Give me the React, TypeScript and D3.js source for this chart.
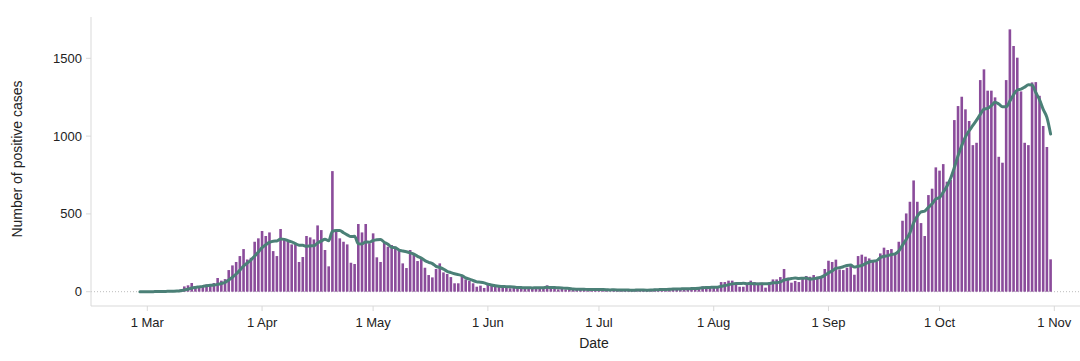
import React from "react";
import * as d3 from "d3";

// First reported day of the series (bars are daily counts from this date)
const startDate = "2020-02-28";

// Daily number of positive cases, 28 Feb 2020 .. 31 Oct 2020
const dailyCases: number[] = [
  0, 0, 1, 0, 2, 2, 5, 4, 3, 7,
  8, 15, 34, 41, 56, 32, 30, 32, 47, 47,
  56, 88, 71, 81, 139, 169, 191, 229, 274, 207,
  218, 321, 343, 390, 358, 381, 261, 229, 403, 332,
  328, 304, 306, 191, 223, 358, 349, 336, 426, 396,
  268, 163, 775, 386, 343, 321, 304, 186, 178, 435,
  381, 435, 311, 375, 221, 191, 315, 289, 300, 289,
  268, 182, 152, 268, 236, 197, 210, 154, 107, 92,
  146, 182, 124, 114, 94, 54, 54, 101, 79, 69,
  54, 32, 39, 24, 43, 39, 32, 32, 25, 28,
  22, 30, 20, 27, 24, 25, 22, 28, 30, 26,
  41, 18, 20, 15, 19, 14, 17, 15, 12, 18,
  14, 10, 17, 15, 12, 10, 14, 3, 12, 15,
  10, 13, 8, 4, 11, 14, 12, 9, 15, 18,
  12, 20, 17, 16, 19, 18, 22, 21, 17, 26,
  24, 30, 34, 32, 28, 32, 26, 62, 62, 71,
  71, 45, 32, 32, 47, 71, 62, 58, 58, 26,
  45, 79, 79, 94, 146, 90, 58, 69, 62, 86,
  101, 96, 107, 96, 101, 146, 199, 191, 206, 143,
  139, 154, 167, 109, 229, 238, 225, 214, 191, 195,
  246, 283, 268, 274, 246, 321, 456, 503, 578, 715,
  578, 441, 358, 621, 662, 799, 778, 820, 707, 718,
  1103, 1193, 1253, 1172, 1097, 942, 957, 1360, 1429, 1292,
  1292, 1249, 867, 829, 1360, 1686, 1579, 1504, 1287, 957,
  942, 1345, 1347, 1259, 1065, 930, 208,
];

// 7-day average line, same days
const sevenDayAverage: number[] = [
  0, 0, 0.3, 0.3, 0.6, 0.8, 1.4, 2.0, 2.4, 3.3,
  4.4, 6.3, 10.9, 16.0, 23.4, 27.6, 30.9, 34.3, 38.9, 40.7,
  42.9, 47.4, 53.0, 60.3, 75.6, 93.0, 113.6, 138.3, 164.9, 184.3,
  203.9, 229.9, 254.7, 283.1, 301.6, 316.9, 324.6, 326.1, 337.9, 336.3,
  327.4, 319.7, 309.0, 299.0, 298.1, 291.7, 294.1, 295.3, 312.7, 325.6,
  336.6, 328.0, 387.6, 392.9, 393.9, 378.9, 365.7, 354.0, 356.1, 307.6,
  306.9, 320.0, 318.6, 328.7, 333.7, 335.6, 318.4, 305.3, 286.0, 282.9,
  267.6, 262.0, 256.4, 249.7, 242.1, 227.4, 216.1, 199.9, 189.1, 180.6,
  163.1, 155.4, 145.0, 131.3, 122.7, 115.1, 109.7, 103.3, 88.6, 80.7,
  72.1, 63.3, 61.1, 56.9, 48.6, 42.9, 37.6, 34.4, 33.4, 31.9,
  31.6, 29.7, 27.0, 26.3, 25.1, 25.1, 24.3, 25.1, 25.1, 26.0,
  28.0, 27.1, 26.4, 25.4, 24.1, 21.9, 20.6, 16.9, 16.0, 15.7,
  15.6, 14.3, 14.7, 14.4, 14.0, 13.7, 13.1, 11.6, 11.9, 11.6,
  10.9, 11.0, 10.7, 9.3, 10.4, 10.7, 10.3, 10.1, 10.4, 11.9,
  13.0, 14.3, 14.7, 15.3, 16.7, 17.1, 17.7, 19.0, 18.6, 19.9,
  21.0, 22.6, 24.9, 26.3, 27.3, 29.4, 29.4, 34.9, 39.4, 44.7,
  50.3, 52.7, 52.7, 53.6, 51.4, 52.7, 51.4, 49.6, 51.4, 50.6,
  52.4, 57.0, 58.1, 62.7, 75.3, 79.9, 84.4, 87.9, 85.4, 86.4,
  87.4, 80.3, 82.7, 88.1, 92.7, 104.7, 120.9, 133.7, 149.4, 154.6,
  160.7, 168.3, 171.3, 158.4, 163.9, 168.4, 180.1, 190.9, 196.1, 200.1,
  219.7, 227.4, 231.7, 238.7, 243.3, 261.9, 299.1, 335.9, 378.0, 441.9,
  485.3, 513.1, 518.4, 542.0, 564.7, 596.3, 605.3, 639.9, 677.9, 729.3,
  798.1, 874.0, 938.9, 995.1, 1034.7, 1068.3, 1102.4, 1139.1, 1172.9, 1178.4,
  1195.6, 1217.3, 1206.6, 1188.3, 1188.3, 1225.0, 1266.0, 1296.3, 1301.7, 1314.6,
  1330.7, 1328.6, 1280.1, 1234.4, 1171.7, 1120.7, 1013.7,
];

const xTickLabels = ["1 Mar", "1 Apr", "1 May", "1 Jun", "1 Jul", "1 Aug", "1 Sep", "1 Oct", "1 Nov"];
const yTickValues = [0, 500, 1000, 1500];
const xTitle = "Date";
const yTitle = "Number of positive cases";

const W = 1080;
const H = 361;
const FONT = "'Liberation Sans', Arial, Helvetica, sans-serif";
const BAR_COLOR = "#8b4c9b";
const LINE_COLOR = "#4b8077";
const AXIS_COLOR = "#d9d9d9";
const TEXT_COLOR = "#222";

export default function App() {
  const parseDay = d3.timeParse("%Y-%m-%d");
  const parseTick = d3.timeParse("%d %b %Y");
  const start = parseDay(startDate) as Date;
  const dates = dailyCases.map((_, i) => d3.timeDay.offset(start, i));
  const tickDates = xTickLabels.map((l) => parseTick(l + " 2020") as Date);

  const left = 91;
  const right = W;
  const axisY = 306;
  const top = 17;

  const x = d3
    .scaleTime()
    .domain([tickDates[0], tickDates[tickDates.length - 1]])
    .range([147.3, 1054.3]);
  const y = d3.scaleLinear().domain([0, 1500]).range([291.7, 58.3]);

  const barW = 2.6;

  const line = d3
    .line<number>()
    .x((_, i) => x(dates[i]))
    .y((v) => y(v))
    .curve(d3.curveMonotoneX);

  return (
    <svg
      width={W}
      height={H}
      style={{ position: "absolute", left: 0, top: 0, background: "#fff" }}
      fontFamily={FONT}
    >
      {/* zero reference line (dotted) */}
      <line x1={left} x2={right} y1={y(0)} y2={y(0)} stroke="#bdbdbd" strokeWidth={1} strokeDasharray="1,2" />

      {/* axes */}
      <line x1={left} x2={left} y1={top} y2={axisY} stroke={AXIS_COLOR} strokeWidth={1} />
      <line x1={left} x2={right} y1={axisY} y2={axisY} stroke={AXIS_COLOR} strokeWidth={1} />

      {yTickValues.map((v) => (
        <g key={v}>
          <line x1={left - 5} x2={left} y1={y(v)} y2={y(v)} stroke={AXIS_COLOR} />
          <text x={82} y={y(v)} dy="0.35em" textAnchor="end" fontSize={13} fill={TEXT_COLOR}>
            {d3.format("d")(v)}
          </text>
        </g>
      ))}

      {tickDates.map((d, i) => (
        <g key={xTickLabels[i]}>
          <line x1={x(d)} x2={x(d)} y1={axisY} y2={axisY + 5} stroke={AXIS_COLOR} />
          <text x={x(d)} y={327} textAnchor="middle" fontSize={13} fill={TEXT_COLOR}>
            {xTickLabels[i]}
          </text>
        </g>
      ))}

      <text x={594} y={348} textAnchor="middle" fontSize={14} fill={TEXT_COLOR}>
        {xTitle}
      </text>
      <text
        transform={`translate(22, 159) rotate(-90)`}
        textAnchor="middle"
        fontSize={14}
        fill={TEXT_COLOR}
      >
        {yTitle}
      </text>

      {/* bars */}
      <g fill={BAR_COLOR}>
        {dailyCases.map((v, i) => (
          <rect
            key={i}
            x={x(dates[i]) - barW / 2}
            y={y(v)}
            width={barW}
            height={Math.max(0, y(0) - y(v))}
          />
        ))}
      </g>

      {/* 7-day average */}
      <path
        d={line(sevenDayAverage) || ""}
        fill="none"
        stroke={LINE_COLOR}
        strokeWidth={3}
        strokeLinecap="round"
        strokeLinejoin="round"
      />
    </svg>
  );
}
